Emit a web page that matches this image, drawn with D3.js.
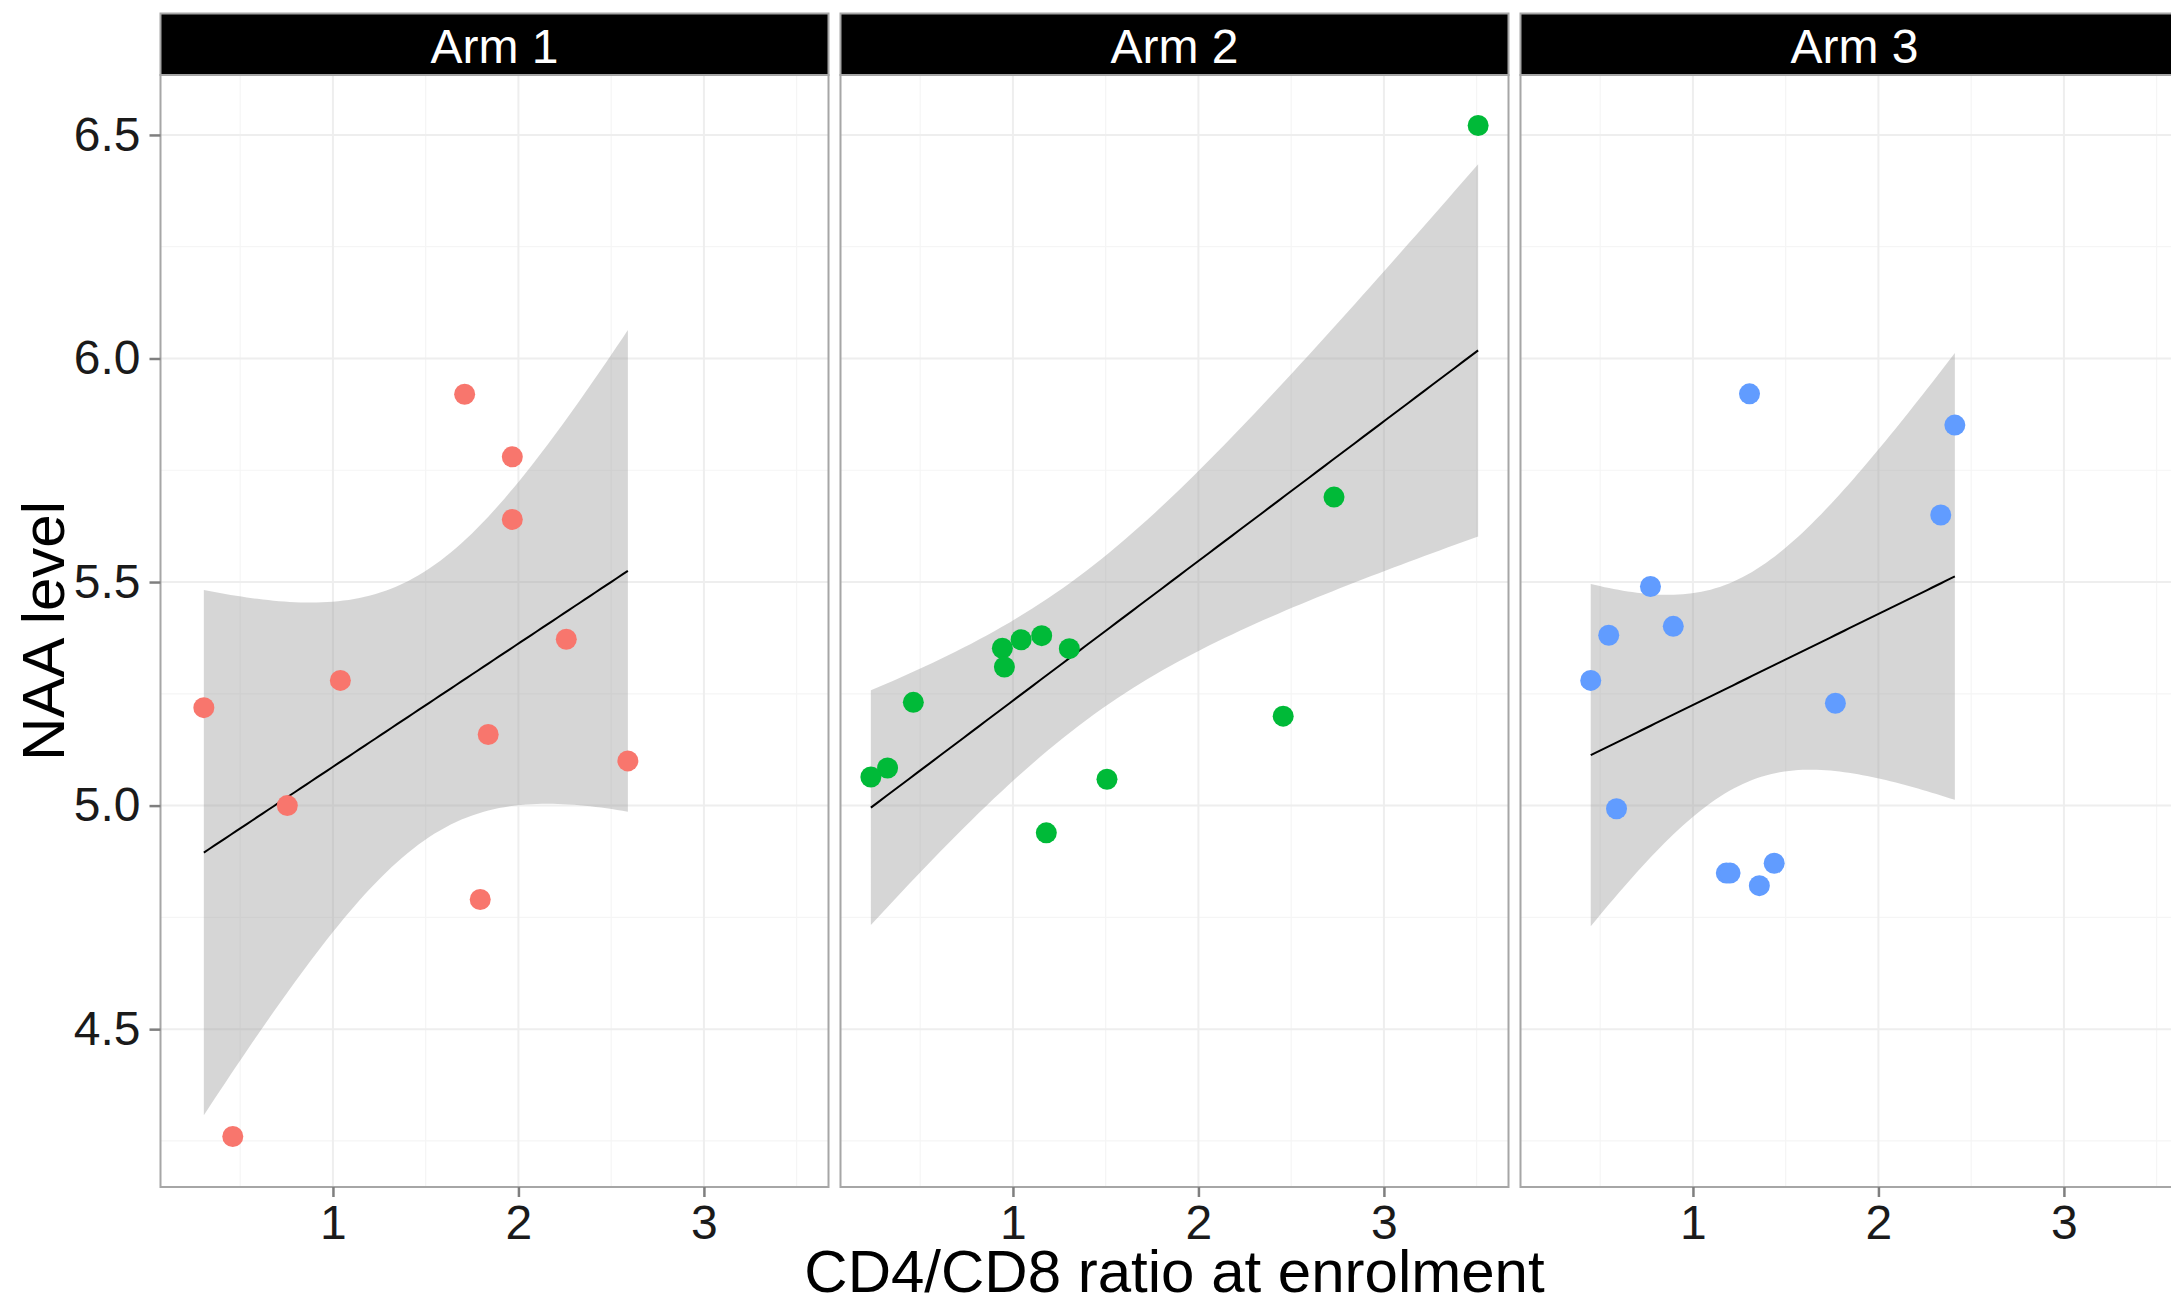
<!DOCTYPE html>
<html>
<head>
<meta charset="utf-8">
<script src="https://cdnjs.cloudflare.com/ajax/libs/d3/7.8.5/d3.min.js"></script>
<style>
body { margin: 0; background: #fff; }
text { font-family: "Liberation Sans", Arial, sans-serif; }
</style>
</head>
<body>
<svg id="chart"></svg>
<script>
// data
const arms = ["Arm 1", "Arm 2", "Arm 3"];
const armColors = ["#F8766D", "#00BA38", "#619CFF"];

const arm1X = [1.710, 1.967, 1.967, 2.258, 1.040, 0.304, 1.837, 2.590, 0.754, 1.794, 0.460];
const arm1Y = [5.920, 5.780, 5.640, 5.372, 5.280, 5.219, 5.159, 5.100, 5.000, 4.790, 4.260];

const arm2X = [3.508, 2.731, 0.943, 1.044, 1.155, 1.304, 0.954, 0.463, 0.324, 0.234, 2.457, 1.507, 1.180];
const arm2Y = [6.521, 5.690, 5.352, 5.371, 5.380, 5.351, 5.310, 5.231, 5.084, 5.064, 5.200, 5.059, 4.939];

const arm3X = [1.305, 2.412, 2.336, 0.771, 0.894, 0.546, 0.449, 1.768, 0.588, 1.180, 1.200, 1.438, 1.358];
const arm3Y = [5.921, 5.851, 5.650, 5.490, 5.401, 5.381, 5.280, 5.229, 4.993, 4.849, 4.849, 4.871, 4.821];

const xTicks = [1, 2, 3];
const xMinor = [0.5, 1.5, 2.5, 3.5];
const yTicks = [4.5, 5.0, 5.5, 6.0, 6.5];
const yMinor = [4.25, 4.75, 5.25, 5.75, 6.25];

const xTitle = "CD4/CD8 ratio at enrolment";
const yTitle = "NAA level";

// 97.5% t quantiles by degrees of freedom
const tCrit = {8: 2.306, 9: 2.262, 10: 2.228, 11: 2.201, 12: 2.179, 13: 2.160};

const armX = [arm1X, arm2X, arm3X];
const armY = [arm1Y, arm2Y, arm3Y];

const chart = {};
chart.width = 2171;
chart.height = 1299;
chart.panelLeft = 160.5;
chart.panelW = 668;
chart.panelGap = 12;
chart.panelTop = 75;
chart.panelBottom = 1187;
chart.stripTop = 13.5;

// ggplot style 5% expansion
chart.expand = function (ext) {
    const r = ext[1] - ext[0];
    return [ext[0] - 0.05 * r, ext[1] + 0.05 * r];
}

// lm fit with 95% confidence band, 80 points like geom_smooth
chart.fitBand = function (xs, ys) {
    const n = xs.length;
    const mx = d3.mean(xs), my = d3.mean(ys);
    let sxx = 0, sxy = 0;
    xs.forEach((x, i) => {
        sxx += (x - mx) * (x - mx);
        sxy += (x - mx) * (ys[i] - my);
    });
    const b = sxy / sxx;
    const a = my - b * mx;
    const rss = d3.sum(xs, (x, i) => (ys[i] - a - b * x) ** 2);
    const s = Math.sqrt(rss / (n - 2));
    const t = tCrit[n - 2];
    const ext = d3.extent(xs);
    return d3.range(80).map(i => {
        const x = ext[0] + i * (ext[1] - ext[0]) / 79;
        const fit = a + b * x;
        const se = s * Math.sqrt(1 / n + (x - mx) * (x - mx) / sxx);
        return {x: x, fit: fit, lo: fit - t * se, hi: fit + t * se};
    });
}

const svg = d3.select("#chart")
    .attr("width", chart.width)
    .attr("height", chart.height);

svg.append("rect")
    .attr("width", chart.width)
    .attr("height", chart.height)
    .attr("fill", "#fff");

const scale_x = d3.scaleLinear()
    .domain(chart.expand(d3.extent(armX.flat())))
    .range([0, chart.panelW]);

const scale_y = d3.scaleLinear()
    .domain(chart.expand(d3.extent(armY.flat())))
    .range([chart.panelBottom, chart.panelTop]);

arms.forEach((name, k) => {
    const left = chart.panelLeft + k * (chart.panelW + chart.panelGap);
    const g = svg.append("g").attr("transform", "translate(" + left + ",0)");

    g.append("rect")
        .attr("y", chart.panelTop)
        .attr("width", chart.panelW)
        .attr("height", chart.panelBottom - chart.panelTop)
        .attr("fill", "#fff");

    // grid
    g.selectAll(".xminor").data(xMinor).join("line")
        .attr("x1", d => scale_x(d)).attr("x2", d => scale_x(d))
        .attr("y1", chart.panelTop).attr("y2", chart.panelBottom)
        .attr("stroke", "#F5F5F5").attr("stroke-width", 1.2);
    g.selectAll(".yminor").data(yMinor).join("line")
        .attr("y1", d => scale_y(d)).attr("y2", d => scale_y(d))
        .attr("x1", 0).attr("x2", chart.panelW)
        .attr("stroke", "#F5F5F5").attr("stroke-width", 1.2);
    g.selectAll(".xmajor").data(xTicks).join("line")
        .attr("x1", d => scale_x(d)).attr("x2", d => scale_x(d))
        .attr("y1", chart.panelTop).attr("y2", chart.panelBottom)
        .attr("stroke", "#EEEEEE").attr("stroke-width", 2);
    g.selectAll(".ymajor").data(yTicks).join("line")
        .attr("y1", d => scale_y(d)).attr("y2", d => scale_y(d))
        .attr("x1", 0).attr("x2", chart.panelW)
        .attr("stroke", "#EEEEEE").attr("stroke-width", 2);

    // smooth
    const band = chart.fitBand(armX[k], armY[k]);
    g.append("path")
        .datum(band)
        .attr("fill", "#999999")
        .attr("fill-opacity", 0.4)
        .attr("d", d3.area()
            .x(d => scale_x(d.x))
            .y0(d => scale_y(d.lo))
            .y1(d => scale_y(d.hi)));
    g.append("path")
        .datum(band)
        .attr("fill", "none")
        .attr("stroke", "#000")
        .attr("stroke-width", 2)
        .attr("d", d3.line()
            .x(d => scale_x(d.x))
            .y(d => scale_y(d.fit)));

    // points
    g.selectAll(".pt").data(armX[k].map((x, i) => [x, armY[k][i]])).join("circle")
        .attr("cx", d => scale_x(d[0]))
        .attr("cy", d => scale_y(d[1]))
        .attr("r", 10.5)
        .attr("fill", armColors[k]);

    // border
    g.append("rect")
        .attr("y", chart.panelTop)
        .attr("width", chart.panelW)
        .attr("height", chart.panelBottom - chart.panelTop)
        .attr("fill", "none")
        .attr("stroke", "#A6A6A6")
        .attr("stroke-width", 2);

    // strip
    g.append("rect")
        .attr("y", chart.stripTop)
        .attr("width", chart.panelW)
        .attr("height", chart.panelTop - chart.stripTop)
        .attr("fill", "#000")
        .attr("stroke", "#A6A6A6")
        .attr("stroke-width", 2);
    g.append("text")
        .attr("x", chart.panelW / 2)
        .attr("y", 63)
        .attr("text-anchor", "middle")
        .attr("fill", "#fff")
        .style("font-size", "48px")
        .text(name);

    // x axis
    const xa = g.append("g")
        .attr("transform", "translate(0," + chart.panelBottom + ")")
        .call(d3.axisBottom(scale_x).tickValues(xTicks).tickFormat(d3.format("d"))
            .tickSize(10).tickPadding(8));
    xa.select(".domain").remove();
    xa.selectAll("line").attr("stroke", "#7F7F7F").attr("stroke-width", 2.5);
    xa.selectAll("text").attr("fill", "#1a1a1a").style("font-size", "48px")
        .style("font-family", "'Liberation Sans', Arial, sans-serif");

    if (k == 0) {
        const ya = g.append("g")
            .call(d3.axisLeft(scale_y).tickValues(yTicks).tickFormat(d3.format(".1f"))
                .tickSize(11).tickPadding(9));
        ya.select(".domain").remove();
        ya.selectAll("line").attr("stroke", "#7F7F7F").attr("stroke-width", 2.5);
        ya.selectAll("text").attr("fill", "#1a1a1a").style("font-size", "48px")
            .style("font-family", "'Liberation Sans', Arial, sans-serif");
    }
});

// axis titles
const plotRight = chart.panelLeft + 3 * chart.panelW + 2 * chart.panelGap;
svg.append("text")
    .attr("x", (chart.panelLeft + plotRight) / 2)
    .attr("y", 1292)
    .attr("text-anchor", "middle")
    .style("font-size", "60px")
    .text(xTitle);
svg.append("text")
    .attr("transform", "translate(64," + (chart.panelTop + chart.panelBottom) / 2 + ") rotate(-90)")
    .attr("text-anchor", "middle")
    .style("font-size", "60px")
    .text(yTitle);
</script>
</body>
</html>
